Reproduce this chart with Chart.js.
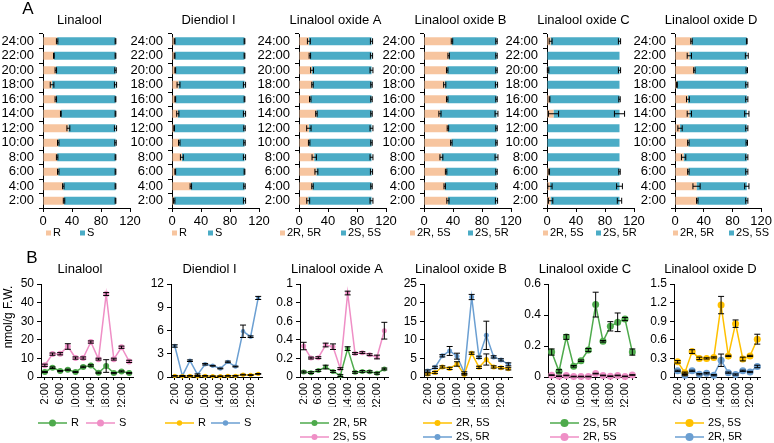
<!DOCTYPE html>
<html>
<head>
<meta charset="utf-8">
<script src="https://cdn.jsdelivr.net/npm/chart.js@4.4.0/dist/chart.umd.min.js"></script>
<style>
  body { margin: 0; background: #fff; }
  #fig { position: relative; width: 774px; height: 443px; overflow: hidden; }
  #fig canvas { position: absolute; left: 0; top: 0; }
</style>
</head>
<body>
<div id="fig"></div>
<script>
// --- DATA ---
const hours = ['2:00', '4:00', '6:00', '8:00', '10:00', '12:00', '14:00', '16:00', '18:00', '20:00', '22:00', '24:00'];
const titles = ['Linalool', 'Diendiol I', 'Linalool oxide A', 'Linalool oxide B', 'Linalool oxide C', 'Linalool oxide D'];

// A: enantiomer ratio (%), first part / second part, with error
const ratioNames = [['R', 'S'], ['R', 'S'], ['2R, 5R', '2S, 5S'], ['2R, 5S', '2S, 5R'], ['2R, 5S', '2S, 5R'], ['2R, 5R', '2S, 5S']];
const ratioTicks = [0, 40, 80, 120];

const linaloolPctR = [29, 28, 21, 19.5, 21, 35, 24.6, 17.7, 12.5, 17.7, 15, 19.5];
const linaloolPctS = [71, 72, 79, 80.5, 79, 65, 75.4, 82.3, 87.5, 82.3, 85, 80.5];
const linaloolPctErrR = [1, 1, 1, 1, 1, 2, 0.5, 1, 2.5, 1, 0.5, 1];
const linaloolPctErrS = [0.5, 0.5, 0.5, 0.5, 1, 1.5, 0.5, 0.5, 1.5, 1, 0.5, 0.5];

const diendiolPctR = [3, 26, 4.5, 13.6, 10, 3, 8, 4.5, 9, 4.5, 3.6, 3.6];
const diendiolPctS = [97, 74, 95.5, 86.4, 90, 97, 92, 95.5, 91, 95.5, 96.4, 96.4];
const diendiolPctErrR = [1, 1, 0.5, 2, 1, 0.5, 1.5, 0.5, 2, 0.5, 0.5, 0.5];
const diendiolPctErrS = [1.5, 1, 0.5, 1.5, 1, 1, 1.5, 0.5, 1.5, 0.5, 0.5, 0.5];

const oxideAPct1 = [12.7, 18.6, 24, 21, 14, 13.6, 24, 15.5, 18.6, 18, 15, 13.6];
const oxideAPct2 = [87.3, 81.4, 76, 79, 86, 86.4, 76, 84.5, 81.4, 82, 85, 86.4];
const oxideAPctErr1 = [2, 1, 2, 3, 1, 3, 1, 1, 1, 2, 1, 2];
const oxideAPctErr2 = [2, 1, 1.5, 2, 1, 2, 1, 1, 1, 2, 1.5, 1.5];

const oxideBPct1 = [33, 28.6, 30.5, 24, 37.7, 33, 22, 32, 28.6, 32, 34, 38.6];
const oxideBPct2 = [67, 71.4, 69.5, 76, 62.3, 67, 78, 68, 71.4, 68, 66, 61.4];
const oxideBPctErr1 = [1.5, 1, 1, 2, 1, 1, 1.5, 1, 1.5, 1, 1, 1];
const oxideBPctErr2 = [1.5, 1, 1, 2, 1, 1, 2, 1, 1.5, 1, 1, 1];

const oxideCPct1 = [5, 4, 3, 0, 0, 0, 9, 3.5, 0, 1.5, 0, 5];
const oxideCPct2 = [95, 96, 97, 100, 100, 100, 91, 96.5, 100, 98.5, 100, 95];
const oxideCPctErr1 = [3, 3, 0.5, 0, 0, 0, 7, 0.5, 0, 1, 0, 2];
const oxideCPctErr2 = [3, 4, 1, 0, 0, 0, 7, 1, 0, 1.5, 0, 1.5];

const oxideDPct1 = [31, 30, 18.6, 12, 18.6, 7, 20, 18, 2.7, 27, 20, 23];
const oxideDPct2 = [69, 70, 81.4, 88, 81.4, 93, 80, 82, 97.3, 73, 80, 77];
const oxideDPctErr1 = [1, 5, 1, 3, 1, 3, 3, 2, 0.5, 1, 3, 1];
const oxideDPctErr2 = [1.5, 3, 1.5, 1.5, 1, 1.5, 3, 1.5, 1.5, 1, 2, 0.5];

// B: content (nmol/g F.W.)
const linaloolR = [2.7, 5, 3.2, 3.9, 2.7, 5.4, 6.2, 2.3, 5.9, 2.1, 3, 2.1];
const linaloolRErr = [0.3, 0.4, 0.3, 0.3, 0.3, 0.4, 0.4, 0.3, 3.4, 0.3, 0.3, 0.3];
const linaloolS = [6.3, 12.3, 12.5, 16.4, 10.2, 10.2, 18.8, 9.6, 44.6, 9.6, 16, 8.4];
const linaloolSErr = [0.6, 0.6, 0.6, 1.5, 0.6, 0.6, 0.6, 0.5, 0.8, 0.5, 0.6, 0.6];

const diendiolR = [0.15, 0.1, 0.15, 0.1, 0.15, 0.1, 0.1, 0.15, 0.15, 0.3, 0.25, 0.4];
const diendiolRErr = [0.05, 0.05, 0.05, 0.05, 0.05, 0.05, 0.05, 0.05, 0.05, 0.05, 0.05, 0.05];
const diendiolS = [4.0, 0.15, 2.1, 0.3, 1.65, 1.45, 1.1, 1.95, 1.35, 5.9, 5.2, 10.2];
const diendiolSErr = [0.15, 0.05, 0.1, 0.1, 0.1, 0.05, 0.05, 0.1, 0.05, 0.8, 0.1, 0.2];

const oxideA2R5R = [0.054, 0.047, 0.07, 0.107, 0.06, 0.015, 0.305, 0.05, 0.06, 0.057, 0.04, 0.086];
const oxideA2R5RErr = [0.01, 0.01, 0.01, 0.02, 0.01, 0.01, 0.02, 0.01, 0.01, 0.01, 0.01, 0.01];
const oxideA2S5S = [0.333, 0.204, 0.208, 0.344, 0.326, 0.09, 0.903, 0.254, 0.262, 0.24, 0.215, 0.498];
const oxideA2S5SErr = [0.04, 0.01, 0.01, 0.02, 0.03, 0.01, 0.02, 0.01, 0.01, 0.01, 0.02, 0.09];

const oxideB2R5S = [0.8, 1.2, 2.7, 2.3, 3.5, 0.7, 6.4, 2.6, 4.7, 2.7, 2.5, 2.2];
const oxideB2R5SErr = [0.3, 0.3, 0.3, 0.3, 0.6, 0.2, 0.3, 0.3, 1.5, 0.3, 0.3, 0.3];
const oxideB2S5R = [1.6, 2.6, 5.7, 7.0, 5.6, 1.1, 21.5, 5.3, 11.2, 5.4, 4.6, 3.4];
const oxideB2S5RErr = [0.3, 0.3, 0.3, 1.2, 0.8, 0.3, 0.7, 0.3, 3.8, 0.3, 0.3, 0.4];

const oxideC2S5R = [0.161, 0.037, 0.258, 0.069, 0.105, 0.174, 0.467, 0.23, 0.327, 0.353, 0.374, 0.161];
const oxideC2S5RErr = [0.02, 0.01, 0.015, 0.005, 0.005, 0.01, 0.08, 0.005, 0.03, 0.06, 0.01, 0.02];
const oxideC2R5S = [0.012, 0.005, 0.01, 0.003, 0.003, 0.003, 0.022, 0.01, 0.005, 0.01, 0.004, 0.013];
const oxideC2R5SErr = [0.002, 0.002, 0.002, 0.002, 0.002, 0.002, 0.002, 0.002, 0.002, 0.002, 0.002, 0.002];

const oxideD2S5S = [0.245, 0.07, 0.41, 0.3, 0.3, 0.315, 1.16, 0.34, 0.86, 0.29, 0.34, 0.61];
const oxideD2S5SErr = [0.02, 0.01, 0.03, 0.02, 0.01, 0.01, 0.14, 0.01, 0.06, 0.03, 0.01, 0.08];
const oxideD2R5R = [0.1, 0.03, 0.1, 0.045, 0.06, 0.03, 0.27, 0.07, 0.04, 0.1, 0.08, 0.17];
const oxideD2R5RErr = [0.01, 0.01, 0.01, 0.01, 0.01, 0.01, 0.1, 0.01, 0.01, 0.01, 0.01, 0.02];

// y axis max / step for B
const levelMax = [50, 12, 1, 25, 0.6, 1.5];
const levelStep = [10, 3, 0.2, 5, 0.2, 0.3];

// --- STYLE ---
const TAN = '#F7C59F', TEAL = '#4BACC6';
const GREEN = '#4EAA4C', PINK = '#EF8FC6', YELLOW = '#FFC000', BLUE = '#6B9FD2';
const FONT = "'Liberation Sans', Arial, sans-serif";

// позиции осей (px)
const ratioAxisX = [43, 172, 299, 424, 547, 675];
const ratioLegendX = [[46, 80], [172, 208], [280, 341], [410, 468], [543, 596], [673, 729]];
const levelAxisX = [41, 171, 300, 424, 548, 674];
const levelRightX = [133, 262, 388, 512, 636, 762];
const levelLegend = [
  [[38, 423], [86, 423]],
  [[165, 423], [211, 423]],
  [[300, 423], [300, 437]],
  [[423, 423], [423, 437]],
  [[550, 423], [550, 437]],
  [[675, 423], [675, 437]]
];

Chart.defaults.font.family = FONT;
Chart.defaults.color = '#000';

// --- PLUGINS ---
const errorBars = {
  id: 'errorBars',
  afterDatasetsDraw(chart, args, opts) {
    const ctx = chart.ctx;
    const horizontal = chart.options.indexAxis === 'y';
    const vScale = horizontal ? chart.scales.x : chart.scales.y;
    const unit = Math.abs(vScale.getPixelForValue(1) - vScale.getPixelForValue(0));
    chart.data.datasets.forEach((ds, di) => {
      if (!ds.errors) return;
      const meta = chart.getDatasetMeta(di);
      ctx.save();
      ctx.strokeStyle = '#000';
      ctx.lineWidth = 1;
      meta.data.forEach((el, i) => {
        const e = ds.errors[i];
        if (!e) return;
        const d = e * unit, c = opts.cap || 3;
        ctx.beginPath();
        if (horizontal) {
          ctx.moveTo(el.x - d, el.y); ctx.lineTo(el.x + d, el.y);
          ctx.moveTo(el.x - d, el.y - c); ctx.lineTo(el.x - d, el.y + c);
          ctx.moveTo(el.x + d, el.y - c); ctx.lineTo(el.x + d, el.y + c);
        } else {
          ctx.moveTo(el.x, el.y - d); ctx.lineTo(el.x, el.y + d);
          ctx.moveTo(el.x - c, el.y - d); ctx.lineTo(el.x + c, el.y - d);
          ctx.moveTo(el.x - c, el.y + d); ctx.lineTo(el.x + c, el.y + d);
        }
        ctx.stroke();
      });
      ctx.restore();
    });
  }
};

const figText = {
  id: 'figText',
  afterDraw(chart, args, opts) {
    const ctx = chart.ctx;
    const a = chart.chartArea;
    (opts.items || []).forEach(it => {
      ctx.save();
      ctx.font = it.font || ('13px ' + FONT);
      ctx.fillStyle = '#000';
      ctx.textAlign = it.align || 'center';
      ctx.textBaseline = 'middle';
      const x = it.x !== undefined ? it.x : (a.left + a.right) / 2 + (it.dx || 0);
      ctx.translate(x, it.y);
      if (it.rot) ctx.rotate(it.rot);
      ctx.fillText(it.text, 0, 0);
      ctx.restore();
    });
  }
};

const figLegend = {
  id: 'figLegend',
  afterDraw(chart, args, opts) {
    if (!opts.pos) return;
    const ctx = chart.ctx;
    chart.data.datasets.forEach((ds, i) => {
      const [x, y] = opts.pos[i];
      let tx;
      ctx.save();
      if (opts.kind === 'box') {
        ctx.fillStyle = ds.backgroundColor;
        ctx.fillRect(x, y - 2.5, 5, 5);
        tx = x + 7;
      } else {
        ctx.strokeStyle = ds.borderColor;
        ctx.lineWidth = 1.5;
        ctx.beginPath(); ctx.moveTo(x, y); ctx.lineTo(x + 29, y); ctx.stroke();
        ctx.fillStyle = ds.borderColor;
        ctx.beginPath(); ctx.arc(x + 14.5, y, ds.pointRadius + 0.5, 0, Math.PI * 2); ctx.fill();
        tx = x + 33;
      }
      ctx.fillStyle = '#000';
      ctx.font = '11px ' + FONT;
      ctx.textAlign = 'left';
      ctx.textBaseline = 'middle';
      ctx.fillText(ds.label, tx, y);
      ctx.restore();
    });
  }
};

Chart.register(errorBars, figText, figLegend);

function makeCanvas() {
  const c = document.createElement('canvas');
  c.width = 774; c.height = 443;
  document.getElementById('fig').appendChild(c);
  return c;
}

// A: горизонтальные столбцы (проценты)
function drawRatio(i, v1, v2, e1, e2, extraText) {
  const left = ratioAxisX[i];
  new Chart(makeCanvas(), {
    type: 'bar',
    data: {
      labels: hours,
      datasets: [
        { label: ratioNames[i][0], data: v1, errors: e1, backgroundColor: TAN },
        { label: ratioNames[i][1], data: v2, errors: e2, backgroundColor: TEAL }
      ]
    },
    options: {
      indexAxis: 'y', responsive: false, animation: false, devicePixelRatio: 1,
      layout: { padding: { left: left - 42, right: 774 - left - 87, top: 34, bottom: 443 - 208 - 18 } },
      datasets: { bar: { categoryPercentage: 1, barPercentage: 0.55, borderWidth: 0 } },
      scales: {
        x: {
          stacked: true, min: 0, max: 120,
          afterBuildTicks: s => { s.ticks = ratioTicks.map(v => ({ value: v })); },
          ticks: { font: { size: 13 }, padding: 2, maxRotation: 0 },
          grid: { drawOnChartArea: false, tickLength: 4, color: '#000' },
          border: { color: '#000' },
          afterFit: s => { s.height = 18; }
        },
        y: {
          stacked: true, reverse: true,
          ticks: { font: { size: 13 }, padding: 5, autoSkip: false },
          grid: { offset: true, drawOnChartArea: false, tickLength: 4, color: '#000' },
          border: { color: '#000' },
          afterFit: s => { s.width = 42; }
        }
      },
      plugins: {
        legend: { display: false }, tooltip: { enabled: false },
        errorBars: { cap: 3 },
        figText: { items: [{ text: titles[i], dx: -7, y: 20 }].concat(extraText || []) },
        figLegend: { kind: 'box', pos: ratioLegendX[i].map(x => [x, 233]) }
      }
    }
  });
}

// B: линии (содержание)
function drawLevels(i, sets, radius, extraText) {
  const left = levelAxisX[i];
  new Chart(makeCanvas(), {
    type: 'line',
    data: {
      labels: hours,
      datasets: sets.map(s => ({
        label: s.label, data: s.data, errors: s.err,
        borderColor: s.color, backgroundColor: s.color,
        pointBackgroundColor: s.color, pointBorderWidth: 0,
        pointRadius: radius, borderWidth: 1.5, tension: 0, clip: false
      }))
    },
    options: {
      responsive: false, animation: false, devicePixelRatio: 1,
      layout: { padding: { left: left - 30, right: 774 - levelRightX[i], top: 284, bottom: 443 - 377 - 30 } },
      scales: {
        x: {
          offset: true,
          ticks: {
            font: { size: 11 }, padding: 3, autoSkip: false, minRotation: 90, maxRotation: 90,
            callback: (v, idx) => (idx % 2 ? '' : hours[idx])
          },
          grid: { drawOnChartArea: false, tickLength: 3, color: '#000' },
          border: { color: '#000' },
          afterCalculateLabelRotation: s => { s.labelRotation = 90; },
          afterFit: s => { s.height = 30; }
        },
        y: {
          min: 0, max: levelMax[i],
          ticks: {
            stepSize: levelStep[i], font: { size: 12 }, padding: 3,
            callback: v => String(Number(v.toFixed(3)))
          },
          grid: { drawOnChartArea: false, tickLength: 4, color: '#000' },
          border: { color: '#000' },
          afterFit: s => { s.width = 30; }
        }
      },
      plugins: {
        legend: { display: false }, tooltip: { enabled: false },
        errorBars: { cap: 3 },
        figText: { items: [{ text: titles[i], dx: -7, y: 269 }].concat(extraText || []) },
        figLegend: { kind: 'line', pos: levelLegend[i] }
      }
    }
  });
}

drawRatio(0, linaloolPctR, linaloolPctS, linaloolPctErrR, linaloolPctErrS,
  [{ text: 'A', x: 28, y: 9, font: '17px ' + FONT }]);
drawRatio(1, diendiolPctR, diendiolPctS, diendiolPctErrR, diendiolPctErrS);
drawRatio(2, oxideAPct1, oxideAPct2, oxideAPctErr1, oxideAPctErr2);
drawRatio(3, oxideBPct1, oxideBPct2, oxideBPctErr1, oxideBPctErr2);
drawRatio(4, oxideCPct1, oxideCPct2, oxideCPctErr1, oxideCPctErr2);
drawRatio(5, oxideDPct1, oxideDPct2, oxideDPctErr1, oxideDPctErr2);

drawLevels(0, [
  { label: 'R', data: linaloolR, err: linaloolRErr, color: GREEN },
  { label: 'S', data: linaloolS, err: linaloolSErr, color: PINK }
], 3, [
  { text: 'B', x: 32, y: 258, font: '17px ' + FONT },
  { text: 'nmol/g F.W.', x: 9, y: 317, rot: -Math.PI / 2, font: '12px ' + FONT }
]);
drawLevels(1, [
  { label: 'R', data: diendiolR, err: diendiolRErr, color: YELLOW },
  { label: 'S', data: diendiolS, err: diendiolSErr, color: BLUE }
], 2.2);
drawLevels(2, [
  { label: '2R, 5R', data: oxideA2R5R, err: oxideA2R5RErr, color: GREEN },
  { label: '2S, 5S', data: oxideA2S5S, err: oxideA2S5SErr, color: PINK }
], 2.5);
drawLevels(3, [
  { label: '2R, 5S', data: oxideB2R5S, err: oxideB2R5SErr, color: YELLOW },
  { label: '2S, 5R', data: oxideB2S5R, err: oxideB2S5RErr, color: BLUE }
], 2.5);
drawLevels(4, [
  { label: '2S, 5R', data: oxideC2S5R, err: oxideC2S5RErr, color: GREEN },
  { label: '2R, 5S', data: oxideC2R5S, err: oxideC2R5SErr, color: PINK }
], 3.5);
drawLevels(5, [
  { label: '2S, 5S', data: oxideD2S5S, err: oxideD2S5SErr, color: YELLOW },
  { label: '2R, 5R', data: oxideD2R5R, err: oxideD2R5RErr, color: BLUE }
], 3.5);
</script>
</body>
</html>
